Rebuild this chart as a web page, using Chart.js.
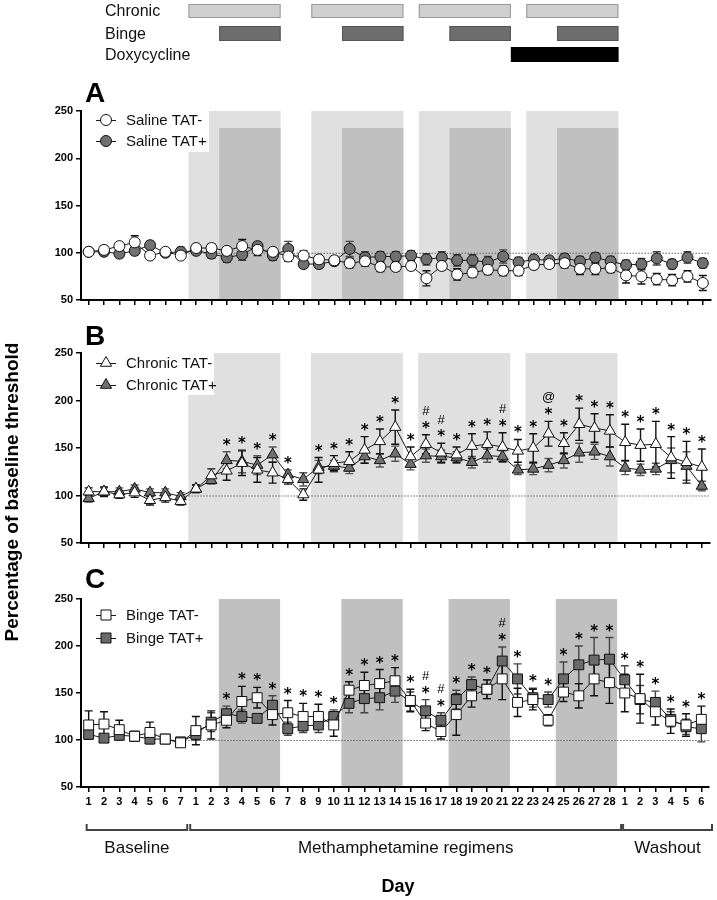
<!DOCTYPE html>
<html><head><meta charset="utf-8">
<script src="https://cdn.jsdelivr.net/npm/chart.js@4.4.1/dist/chart.umd.min.js"></script>
<style>
html,body{margin:0;padding:0;background:#fff}
body{width:717px;height:900px;position:relative;overflow:hidden}
canvas{position:absolute;left:0}
#ytitle{position:absolute;left:-147px;top:480px;width:320px;height:24px;line-height:24px;text-align:center;transform:rotate(-90deg);font:bold 19px "Liberation Sans",Arial,sans-serif;color:#000;white-space:nowrap}
</style></head><body>
<canvas id="cA" width="717" height="320" style="top:0"></canvas>
<canvas id="cB" width="717" height="240" style="top:320px"></canvas>
<canvas id="cC" width="717" height="340" style="top:560px"></canvas>
<div id="ytitle">Percentage of baseline threshold</div>
<script>
const FONT = '"Liberation Sans", Arial, sans-serif';

const dayLabels = ['1','2','3','4','5','6','7',
  '1','2','3','4','5','6','7','8','9','10','11','12','13','14','15','16','17','18','19','20','21','22','23','24','25','26','27','28',
  '1','2','3','4','5','6'];

const salineNeg    = [101,103,107,111,97,101,97,105,105,102,107,103,101,96,97,93,92,89,91,85,85,86,73,86,77,79,82,81,81,87,88,89,83,83,84,76,75,72,71,75,68];
const salineNegErr = [3,4,3,7,4,3,4,3,4,4,7,6,4,5,5,4,4,5,5,5,4,4,8,4,6,5,5,5,5,4,4,5,6,6,5,8,8,6,6,6,8];
const salinePos    = [101,101,99,102,108,100,101,102,99,95,98,107,97,104,88,88,91,104,95,96,96,97,93,95,92,92,90,96,90,93,92,94,91,95,91,87,88,94,88,95,89];
const salinePosErr = [3,3,4,4,4,3,5,3,5,5,6,4,5,8,4,4,4,8,6,5,5,5,6,6,6,6,6,7,5,4,4,5,5,5,5,5,6,7,5,6,5];

const chronicNeg    = [104,104,101,103,95,98,94,107,121,126,134,127,124,117,101,127,134,136,148,157,172,141,154,145,143,152,154,151,147,150,165,155,175,171,168,156,153,154,140,135,130];
const chronicNegErr = [4,5,4,5,5,5,4,4,7,10,13,13,11,5,6,13,8,10,14,13,18,10,10,10,8,13,13,15,12,15,13,11,17,15,17,19,17,24,22,22,19];
const chronicPos    = [97,104,104,107,103,103,99,107,116,137,136,132,143,122,117,130,131,129,141,137,144,133,142,141,140,135,142,141,127,128,132,137,145,146,141,129,127,128,137,131,110];
const chronicPosErr = [4,4,4,4,4,4,4,4,4,9,12,10,8,5,7,7,6,6,7,7,8,6,7,7,6,6,7,6,5,6,7,8,10,8,10,7,6,6,13,15,5];

const bingeNeg    = [116,117,111,104,108,101,97,110,116,121,141,145,127,129,125,125,116,153,158,160,163,142,118,109,127,147,154,165,140,143,121,151,147,165,161,150,144,130,120,116,122];
const bingeNegErr = [15,13,10,5,11,4,4,15,15,8,16,11,11,13,14,13,12,9,14,15,14,12,8,8,22,12,10,22,15,11,6,10,13,18,22,20,26,14,13,12,14];
const bingePos    = [106,102,105,104,101,101,98,106,119,128,125,123,137,112,115,116,125,139,144,145,152,141,131,121,143,159,154,184,165,145,143,165,180,185,186,164,143,140,122,114,112];
const bingePosErr = [5,3,5,4,5,3,3,6,10,8,7,4,10,7,7,8,7,10,15,13,12,10,12,8,10,8,10,15,16,10,8,18,20,24,23,15,15,12,8,8,14];

const annB = ['','','','','','','','','','*','*','*','*','*','','*','*','*','*','*','*','*','#*','#*','*','*','*','#*','*','*','@*','*','*','*','*','*','*','*','*','*','*'];
const annC = ['','','','','','','','','','*','*','*','*','*','*','*','*','*','*','*','*','*','#*','#*','*','*','*','#*','*','*','*','*','*','*','*','*','*','*','*','*','*'];

// methamphetamine-day ranges
const chronicBlocks = [[1,6],[9,14],[16,21],[23,28]];
const bingeBlocks   = [[3,6],[11,14],[18,21],[25,28]];
const doxyBlocks    = [[22,28]];
const scheduleRows  = ['Chronic','Binge','Doxycycline'];
const groupLabels   = ['Baseline','Methamphetamine regimens','Washout'];
const groupRanges   = [[0,6],[7,34],[35,40]];

const methIdx = d => d + 6;

function halfW(x){ return (x.getPixelForValue(1) - x.getPixelForValue(0)) / 2; }
function edges(x, i0, i1){ const h = halfW(x); return [x.getPixelForValue(i0) - h, x.getPixelForValue(i1) + h]; }

function drawMarker(ctx, style, cx, cy, fill){
  ctx.beginPath();
  if (style === 'circle') ctx.arc(cx, cy, 5.5, 0, Math.PI*2);
  else if (style === 'triangle'){ const r = 6.5; ctx.moveTo(cx, cy-r); ctx.lineTo(cx+r*0.866, cy+r*0.5); ctx.lineTo(cx-r*0.866, cy+r*0.5); ctx.closePath(); }
  else ctx.rect(cx-5, cy-5, 10, 10);
  ctx.fillStyle = fill; ctx.fill(); ctx.lineWidth = 1; ctx.strokeStyle = '#111'; ctx.stroke();
}
function drawCentered(ctx, txt, x, yc, font){
  ctx.font = font; ctx.textAlign = 'center'; ctx.textBaseline = 'alphabetic';
  const m = ctx.measureText(txt);
  ctx.fillText(txt, x, yc + (m.actualBoundingBoxAscent - m.actualBoundingBoxDescent) / 2);
}

function makePanel(id, spec){
  const ctxEl = document.getElementById(id);
  const radius = spec.marker === 'rect' ? 7 : (spec.marker === 'triangle' ? 6.5 : 5.5);
  const datasets = spec.series.map(s => ({
    label: s.label, data: s.values, borderColor: '#1a1a1a', borderWidth: 1,
    pointStyle: spec.marker, pointRadius: radius, pointBackgroundColor: s.fill,
    pointBorderColor: '#111', pointBorderWidth: 1, fill: false, tension: 0, clip: false
  }));
  const plugin = {
    id: 'panel_' + id,
    beforeDraw(chart){
      const {ctx, chartArea: ca, scales: {x, y}} = chart;
      ctx.save();
      if (spec.light){
        ctx.fillStyle = '#e0e0e0';
        for (const [a,b] of chronicBlocks){ const [l,r] = edges(x, methIdx(a), methIdx(b)); const t = y.getPixelForValue(250); ctx.fillRect(l, t, r-l, ca.bottom - t); }
      }
      if (spec.dark){
        ctx.fillStyle = '#c0c0c0';
        for (const [a,b] of bingeBlocks){ const [l,r] = edges(x, methIdx(a), methIdx(b)); const t = y.getPixelForValue(spec.darkTop); ctx.fillRect(l, t, r-l, ca.bottom - t); }
      }
      if (spec.legendBg){ ctx.fillStyle = '#fff'; ctx.fillRect(ca.left, ca.top - 2, spec.legendBg[0] - ca.left, spec.legendBg[1] + 2); }
      // dotted reference line at 100
      const y100 = y.getPixelForValue(100);
      const [lx] = edges(x, 7, 7);
      ctx.strokeStyle = '#666'; ctx.lineWidth = 1; ctx.setLineDash([1.5, 1.5]);
      ctx.beginPath(); ctx.moveTo(lx - 3, y100 + 0.5); ctx.lineTo(ca.right, y100 + 0.5); ctx.stroke();
      ctx.setLineDash([]);
      ctx.restore();
    },
    beforeDatasetsDraw(chart){
      const {ctx, scales: {x, y}} = chart;
      ctx.save();
      for (let k = spec.series.length - 1; k >= 0; k--){
        const s = spec.series[k];
        ctx.strokeStyle = s.errColor; ctx.lineWidth = 1.4;
        s.values.forEach((v, i) => {
          const px = x.getPixelForValue(i);
          const t = y.getPixelForValue(v + s.err[i]), b = y.getPixelForValue(v - s.err[i]);
          ctx.beginPath();
          ctx.moveTo(px, t); ctx.lineTo(px, b);
          ctx.moveTo(px - 4, t); ctx.lineTo(px + 4, t);
          ctx.moveTo(px - 4, b); ctx.lineTo(px + 4, b);
          ctx.stroke();
        });
      }
      ctx.restore();
    },
    afterDatasetsDraw(chart){
      const {ctx, chartArea: ca, scales: {x, y}} = chart;
      ctx.save();
      ctx.fillStyle = '#000';
      if (spec.ann){
        spec.ann.forEach((a, i) => {
          if (!a) return;
          const px = x.getPixelForValue(i);
          let top = Infinity;
          spec.series.forEach(s => { top = Math.min(top, y.getPixelForValue(s.values[i] + s.err[i])); });
          const yc = top - 10;
          drawCentered(ctx, '*', px, yc, 'bold 15px "DejaVu Sans"');
          if (a.length > 1) drawCentered(ctx, a[0], px, yc - 14, '13px ' + FONT);
        });
      }
      // legend
      spec.series.forEach((s, k) => {
        const ry = ca.top + spec.legendRows[k];
        ctx.strokeStyle = '#1a1a1a'; ctx.lineWidth = 1;
        ctx.beginPath(); ctx.moveTo(96, ry + 0.5); ctx.lineTo(116, ry + 0.5); ctx.stroke();
        drawMarker(ctx, spec.marker, 106, ry, s.fill);
        ctx.fillStyle = '#111'; ctx.font = '15px ' + FONT; ctx.textAlign = 'left'; ctx.textBaseline = 'middle';
        ctx.fillText(s.label, 126, ry + 1);
      });
      // panel letter
      ctx.fillStyle = '#000'; ctx.font = 'bold 28px ' + FONT; ctx.textAlign = 'left'; ctx.textBaseline = 'alphabetic';
      ctx.fillText(spec.letter, 85, ca.top + spec.letterDy);
      ctx.restore();
    },
    afterDraw(chart){ if (spec.extra) spec.extra(chart); }
  };
  return new Chart(ctxEl, {
    type: 'line',
    data: { labels: dayLabels, datasets },
    options: {
      responsive: false, animation: false, events: [], devicePixelRatio: 1,
      layout: { padding: spec.padding },
      plugins: { legend: { display: false }, tooltip: { enabled: false } },
      scales: {
        x: {
          type: 'category', offset: true,
          grid: { drawOnChartArea: false, offset: false, color: '#000', lineWidth: 1.5, tickLength: 5 },
          border: { display: true, color: '#000', width: 2 },
          ticks: { display: spec.showX, autoSkip: false, maxRotation: 0, minRotation: 0, padding: 3, color: '#000',
                   font: { family: FONT, size: 11, weight: 'bold' } },
          afterFit: s => { s.height = spec.xh; }
        },
        y: {
          min: 50, max: 250,
          ticks: { stepSize: 50, padding: 3, color: '#000', font: { family: FONT, size: 11, weight: 'bold' } },
          grid: { drawOnChartArea: false, color: '#000', lineWidth: 1.5, tickLength: 5 },
          border: { display: true, color: '#000', width: 2 },
          afterFit: s => { s.width = 81; }
        }
      }
    },
    plugins: [plugin]
  });
}

function drawSchedule(chart){
  const {ctx, scales: {x}} = chart;
  ctx.save();
  const rows = [
    { blocks: chronicBlocks, y: 4,  h: 14, fill: '#d0d0d0', stroke: '#999' },
    { blocks: bingeBlocks,   y: 26, h: 15, fill: '#6d6d6d', stroke: '#555' },
    { blocks: doxyBlocks,    y: 47, h: 15, fill: '#000',    stroke: '#000' }
  ];
  rows.forEach((r, k) => {
    r.blocks.forEach(([a,b]) => {
      const [l, rr] = edges(x, methIdx(a), methIdx(b));
      ctx.fillStyle = r.fill; ctx.fillRect(l, r.y, rr - l, r.h);
      ctx.strokeStyle = r.stroke; ctx.lineWidth = 1; ctx.strokeRect(l + 0.5, r.y + 0.5, rr - l - 1, r.h - 1);
    });
    ctx.fillStyle = '#111'; ctx.font = '16px ' + FONT; ctx.textAlign = 'left'; ctx.textBaseline = 'middle';
    ctx.fillText(scheduleRows[k], 105, r.y + r.h / 2 + 1);
  });
  ctx.restore();
}

function drawGroups(chart){
  const {ctx, scales: {x}} = chart;
  ctx.save();
  const by = 270, ey = 264;
  ctx.strokeStyle = '#444'; ctx.lineWidth = 2;
  groupRanges.forEach(([a,b], k) => {
    let l, r;
    const [el, er] = edges(x, a, b);
    if (k === 0){ l = x.getPixelForValue(a) - 2; r = er - 1; }
    else if (k === 1){ l = el + 2; r = er + 4; }
    else { l = el + 6; r = er + 3; }
    ctx.beginPath(); ctx.moveTo(l, ey); ctx.lineTo(l, by); ctx.lineTo(r, by); ctx.lineTo(r, ey); ctx.stroke();
    ctx.fillStyle = '#111'; ctx.font = '17px ' + FONT; ctx.textAlign = 'center'; ctx.textBaseline = 'middle';
    ctx.fillText(groupLabels[k], (l + r) / 2, 288);
  });
  ctx.fillStyle = '#000'; ctx.font = 'bold 18px ' + FONT; ctx.textAlign = 'center'; ctx.textBaseline = 'middle';
  ctx.fillText('Day', 398, 327);
  ctx.restore();
}

makePanel('cA', {
  marker: 'circle', light: true, dark: true, darkTop: 232,
  series: [
    { label: 'Saline TAT-', values: salineNeg, err: salineNegErr, fill: '#fff', errColor: '#111' },
    { label: 'Saline TAT+', values: salinePos, err: salinePosErr, fill: '#707070', errColor: '#444' }
  ],
  legendBg: [209, 41], legendRows: [9, 30], letter: 'A', letterDy: -9, ann: null,
  padding: { top: 111, bottom: 8, left: 0, right: 5 }, xh: 12, showX: false, extra: drawSchedule
});
makePanel('cB', {
  marker: 'triangle', light: true, dark: false,
  series: [
    { label: 'Chronic TAT-', values: chronicNeg, err: chronicNegErr, fill: '#fff', errColor: '#111' },
    { label: 'Chronic TAT+', values: chronicPos, err: chronicPosErr, fill: '#707070', errColor: '#555' }
  ],
  legendBg: [214, 42], legendRows: [10, 32], letter: 'B', letterDy: -8, ann: annB,
  padding: { top: 33, bottom: 5, left: 0, right: 5 }, xh: 12, showX: false
});
makePanel('cC', {
  marker: 'rect', light: false, dark: true, darkTop: 250,
  series: [
    { label: 'Binge TAT-', values: bingeNeg, err: bingeNegErr, fill: '#fff', errColor: '#111' },
    { label: 'Binge TAT+', values: bingePos, err: bingePosErr, fill: '#6a6a6a', errColor: '#444' }
  ],
  legendBg: null, legendRows: [16, 39], letter: 'C', letterDy: -11, ann: annC,
  padding: { top: 39, bottom: 93, left: 0, right: 5 }, xh: 20, showX: true, extra: drawGroups
});
</script>
</body></html>
